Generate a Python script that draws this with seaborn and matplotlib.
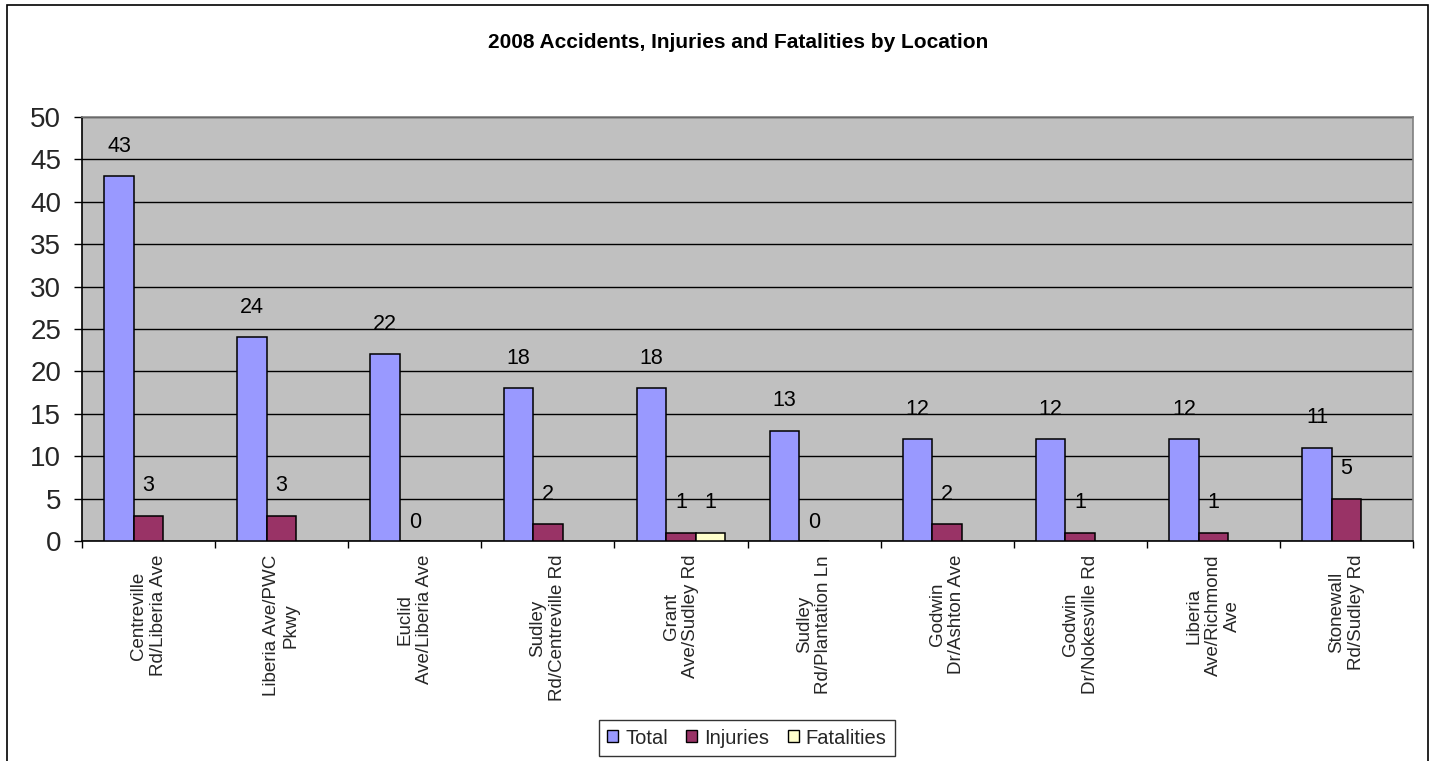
import numpy as np
import pandas as pd
import matplotlib
matplotlib.use("Agg")
import matplotlib.pyplot as plt
import seaborn as sns
from matplotlib.patches import Rectangle, Patch

# ---- data ----
locations = [
    "Centreville\nRd/Liberia Ave",
    "Liberia Ave/PWC\nPkwy",
    "Euclid\nAve/Liberia Ave",
    "Sudley\nRd/Centreville Rd",
    "Grant\nAve/Sudley Rd",
    "Sudley\nRd/Plantation Ln",
    "Godwin\nDr/Ashton Ave",
    "Godwin\nDr/Nokesville Rd",
    "Liberia\nAve/Richmond\nAve",
    "Stonewall\nRd/Sudley Rd",
]
total = [43, 24, 22, 18, 18, 13, 12, 12, 12, 11]
injuries = [3, 3, 0, 2, 1, 0, 2, 1, 1, 5]
fatalities = [np.nan, np.nan, np.nan, np.nan, 1, np.nan, np.nan, np.nan, np.nan, np.nan]
series_names = ["Total", "Injuries", "Fatalities"]
series_colors = ["#9999FF", "#993366", "#FFFFCC"]
title = "2008 Accidents, Injuries and Fatalities by Location"
y_ticks = [0, 5, 10, 15, 20, 25, 30, 35, 40, 45, 50]

df = pd.DataFrame({
    "Location": locations * 3,
    "Series": ["Total"] * 10 + ["Injuries"] * 10 + ["Fatalities"] * 10,
    "Value": total + injuries + fatalities,
})

sns.set_theme(style="white")
plt.rcParams["font.family"] = ["Liberation Sans", "DejaVu Sans"]

W, H = 1432, 761
fig = plt.figure(figsize=(W / 100, H / 100), dpi=100)
fig.patch.set_facecolor("white")
ax = fig.add_axes([82 / W, 1 - 541 / H, (1413 - 82) / W, (541 - 117) / H])
ax.set_facecolor("#C0C0C0")

sns.barplot(data=df, x="Location", y="Value", hue="Series",
            order=locations, hue_order=series_names,
            palette=series_colors, width=0.665, dodge=True,
            edgecolor="black", linewidth=1.1, saturation=1,
            errorbar=None, legend=False, ax=ax, zorder=3)

# data labels
for cont in ax.containers:
    for bar in cont:
        h = bar.get_height()
        if np.isnan(h):
            continue
        off = 14 if h > 0 else 6
        ax.annotate(f"{int(round(h))}", (bar.get_x() + bar.get_width() / 2, h),
                    xytext=(0, off), textcoords="offset points",
                    ha="center", va="bottom", fontsize=15.5, color="black", zorder=5)

ax.set_ylim(0, 50)
ax.set_xlim(-0.5, len(locations) - 0.5)
ax.set_yticks(y_ticks)
ax.set_yticklabels([str(t) for t in y_ticks], fontsize=20)
ax.yaxis.grid(True, color="black", linewidth=1.0, zorder=0)
ax.set_axisbelow(True)
ax.set_xlabel("")
ax.set_ylabel("")

ax.tick_params(axis="y", which="major", direction="out", length=6, width=1,
               color="black", pad=9, left=True)
ax.set_xticks(range(len(locations)))
ax.set_xticklabels(locations, rotation=90, fontsize=13.5, ha="center", va="top",
                   multialignment="center")
ax.tick_params(axis="x", which="major", length=0, pad=10)
ax.set_xticks(np.arange(-0.5, len(locations), 1.0), minor=True)
ax.tick_params(axis="x", which="minor", direction="out", length=5, width=1,
               color="black", bottom=True)

for s in ["left", "bottom"]:
    ax.spines[s].set_color("black")
    ax.spines[s].set_linewidth(1.2)
    ax.spines[s].set_visible(True)
for s in ["top", "right"]:
    ax.spines[s].set_color("#808080")
    ax.spines[s].set_linewidth(1.2)
    ax.spines[s].set_visible(True)

fig.text(0.5155, 1 - 43 / H, title, ha="center", va="center",
         fontsize=15, fontweight="bold", color="black")

handles = [Patch(facecolor=c, edgecolor="black", linewidth=1.0) for c in series_colors]
leg = fig.legend(handles, series_names, loc="center",
                 bbox_to_anchor=(747 / W, 1 - 738 / H), ncol=3, fontsize=14.5,
                 frameon=True, fancybox=False, edgecolor="black",
                 handlelength=0.55, handleheight=0.55, handletextpad=0.35,
                 columnspacing=0.9, borderpad=0.4, borderaxespad=0)
leg.get_frame().set_linewidth(1.0)

# outer chart border
fig.patches.append(Rectangle((7 / W, -0.05), (1428 - 7) / W, 1.05 - 5 / H,
                             transform=fig.transFigure, fill=False,
                             edgecolor="black", linewidth=1.2))

fig.savefig("out.png", dpi=100, facecolor="white")
